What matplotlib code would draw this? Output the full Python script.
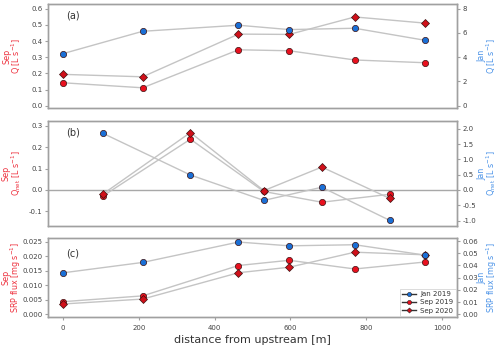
import numpy as np
import matplotlib
matplotlib.use('Agg')
import matplotlib.pyplot as plt
from matplotlib.lines import Line2D

# site positions and midpoints [m]
dist = [0, 210, 463, 597, 770, 955]
dist_mid = [105, 336, 530, 683, 862]

# (a) discharge
q_jan19 = [4.30, 6.14, 6.64, 6.28, 6.39, 5.40]
q_sep19 = [0.142, 0.111, 0.346, 0.340, 0.283, 0.266]
q_sep20 = [0.194, 0.179, 0.443, 0.441, 0.549, 0.511]

# (b) net discharge
qn_jan19 = [1.85, 0.49, -0.34, 0.09, -0.99]
qn_sep19 = [-0.028, 0.237, -0.007, -0.057, -0.020]
qn_sep20 = [-0.019, 0.268, -0.003, 0.107, -0.039]

# (c) SRP flux
srp_jan19 = [0.0340, 0.0425, 0.0592, 0.0561, 0.0570, 0.0485]
srp_sep19 = [0.0043, 0.0063, 0.0168, 0.0186, 0.0156, 0.0180]
srp_sep20 = [0.0035, 0.0052, 0.0143, 0.0162, 0.0214, 0.0205]

c_red = '#e8101e'
c_red2 = '#d0101a'
c_blue = '#1a6fd6'
c_lab_red = '#ee3340'
c_lab_blue = '#4d94e8'
c_line = '#c4c4c4'
c_spine = '#a0a0a0'
c_tick = '#444444'

plt.rcParams['font.family'] = 'DejaVu Sans'

fig = plt.figure(figsize=(5.0, 3.49), dpi=100)
L, W = 0.096, 0.818
ax_a = fig.add_axes([L, 0.6905, W, 0.298])
ax_b = fig.add_axes([L, 0.3524, W, 0.301])
ax_c = fig.add_axes([L, 0.0917, W, 0.2263])


def style(ax, tw):
    for a in (ax, tw):
        for s in a.spines.values():
            s.set_color(c_spine)
            s.set_linewidth(1.0)
        a.tick_params(colors=c_spine, labelcolor=c_tick, labelsize=5,
                      length=2.5, width=0.8, pad=1.5)
    ax.set_xlim(-40, 1040)


def labels(ax, tw, left, right):
    ax.set_ylabel(left, color=c_lab_red, fontsize=5.8, linespacing=0.9)
    tw.set_ylabel(right, color=c_lab_blue, fontsize=5.8, linespacing=0.85)
    ax.yaxis.set_label_coords(-0.06, 0.5)
    tw.yaxis.set_label_coords(1.049, 0.5)


def plot_series(ax, x, y, marker, col, ms=4.5):
    ax.plot(x, y, color=c_line, lw=1.0, zorder=1)
    ax.plot(x, y, ls='none', marker=marker, ms=ms, mfc=col,
            mec='#3a1010', mew=0.5, zorder=3)


# panel (a)
tw_a = ax_a.twinx()
style(ax_a, tw_a)
plot_series(ax_a, dist, q_sep19, 'o', c_red)
plot_series(ax_a, dist, q_sep20, 'D', c_red2, ms=3.8)
plot_series(tw_a, dist, q_jan19, 'o', c_blue)
ax_a.set_ylim(-0.014, 0.629)
tw_a.set_ylim(-0.19, 8.39)
ax_a.set_yticks(np.arange(0, 0.61, 0.1))
ax_a.set_yticklabels(['%.1f' % v for v in np.arange(0, 0.61, 0.1)])
tw_a.set_yticks([0, 2, 4, 6, 8])
ax_a.set_xticks([])
labels(ax_a, tw_a, 'Sep\nQ [L s$^{-1}$]', 'Jan\nQ [L s$^{-1}$]')
ax_a.text(0.045, 0.86, '(a)', transform=ax_a.transAxes, fontsize=7, color='#333333')

# panel (b)
tw_b = ax_b.twinx()
style(ax_b, tw_b)
ax_b.axhline(0, color='#a8a8a8', lw=1.0, zorder=0)
plot_series(ax_b, dist_mid, qn_sep19, 'o', c_red)
plot_series(ax_b, dist_mid, qn_sep20, 'D', c_red2, ms=3.8)
plot_series(tw_b, dist_mid, qn_jan19, 'o', c_blue)
ax_b.set_ylim(-0.168, 0.322)
tw_b.set_ylim(-1.176, 2.254)
ax_b.set_yticks([-0.1, 0.0, 0.1, 0.2, 0.3])
ax_b.set_yticklabels(['-0.1', '0.0', '0.1', '0.2', '0.3'])
tw_b.set_yticks([-1.0, -0.5, 0.0, 0.5, 1.0, 1.5, 2.0])
tw_b.set_yticklabels(['-1.0', '-0.5', '0.0', '0.5', '1.0', '1.5', '2.0'])
ax_b.set_xticks([])
labels(ax_b, tw_b, 'Sep\nQ$_{\\mathrm{net}}$ [L s$^{-1}$]',
       'Jan\nQ$_{\\mathrm{net}}$ [L s$^{-1}$]')
ax_b.text(0.045, 0.86, '(b)', transform=ax_b.transAxes, fontsize=7, color='#333333')

# panel (c)
tw_c = ax_c.twinx()
style(ax_c, tw_c)
plot_series(ax_c, dist, srp_sep19, 'o', c_red)
plot_series(ax_c, dist, srp_sep20, 'D', c_red2, ms=3.8)
plot_series(tw_c, dist, srp_jan19, 'o', c_blue)
ax_c.set_ylim(-0.001, 0.0263)
tw_c.set_ylim(-0.0022, 0.0625)
ax_c.set_yticks(np.arange(0, 0.0251, 0.005))
ax_c.set_yticklabels(['%.3f' % v for v in np.arange(0, 0.0251, 0.005)])
tw_c.set_yticks(np.arange(0, 0.061, 0.01))
tw_c.set_yticklabels(['%.2f' % v for v in np.arange(0, 0.061, 0.01)])
ax_c.set_xticks([0, 200, 400, 600, 800, 1000])
ax_c.tick_params(axis='x', pad=3)
labels(ax_c, tw_c, 'Sep\nSRP flux [mg s$^{-1}$]', 'Jan\nSRP flux [mg s$^{-1}$]')
ax_c.set_xlabel('distance from upstream [m]', fontsize=8, color='#333333', labelpad=3)
ax_c.text(0.045, 0.76, '(c)', transform=ax_c.transAxes, fontsize=7, color='#333333')

handles = [
    Line2D([], [], color='#333333', lw=1, marker='o', ms=3, mfc=c_blue, mec='#222222', mew=0.4),
    Line2D([], [], color='#333333', lw=1, marker='o', ms=3, mfc=c_red, mec='#222222', mew=0.4),
    Line2D([], [], color='#333333', lw=1, marker='D', ms=2.6, mfc=c_red2, mec='#222222', mew=0.4),
]
leg = tw_c.legend(handles, ['Jan 2019', 'Sep 2019', 'Sep 2020'], loc='lower right',
                  fontsize=5, frameon=True, fancybox=False, handlelength=2.0,
                  borderaxespad=0.1, borderpad=0.4, labelspacing=0.3, handletextpad=0.6)
leg.get_frame().set_edgecolor('#cccccc')
leg.get_frame().set_linewidth(0.6)
for t in leg.get_texts():
    t.set_color('#333333')

fig.savefig('out.png', dpi=100)
